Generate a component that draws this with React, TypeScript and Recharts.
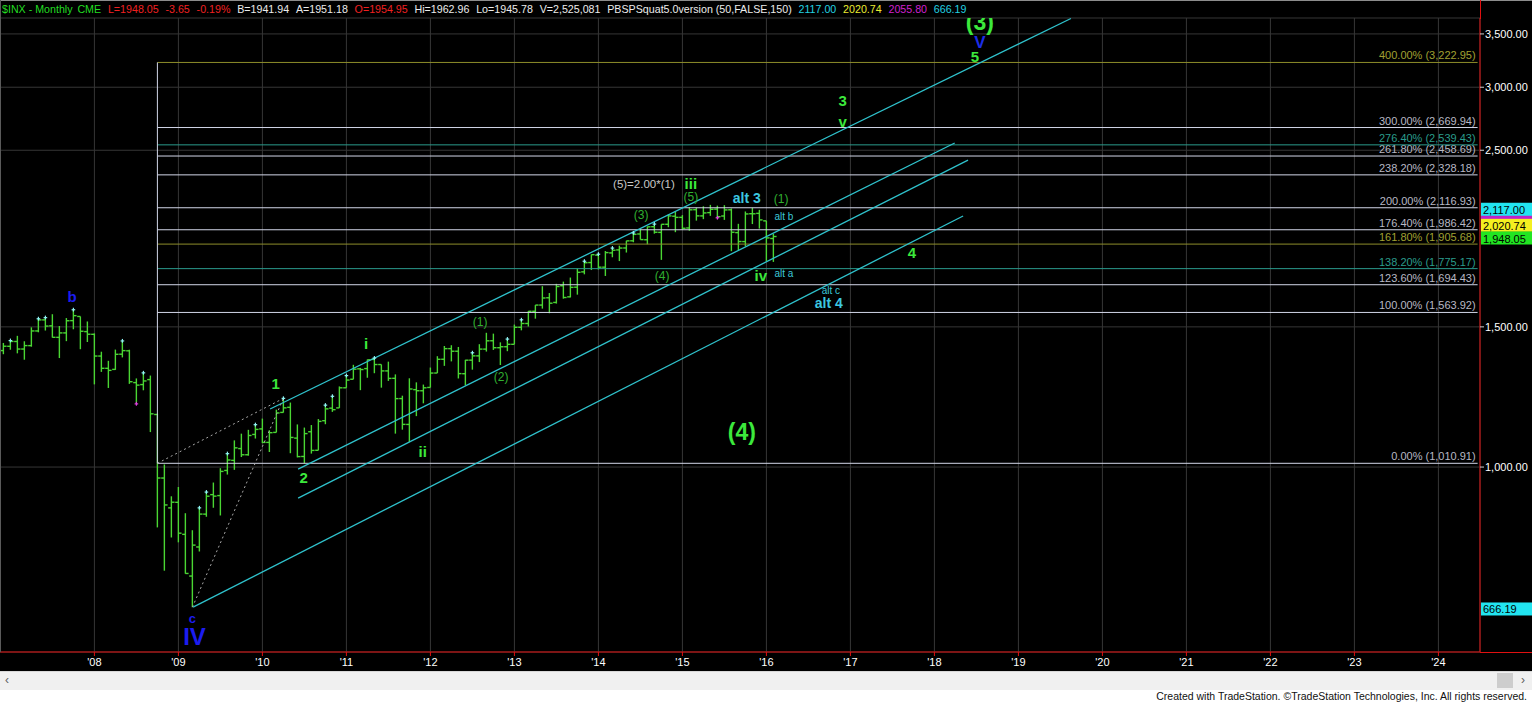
import React from "react";
import { ComposedChart, Bar, Scatter, XAxis, YAxis, CartesianGrid, ReferenceLine } from "recharts";

// monthly bars, first one is Dec 2006; month index m: Jan 2008 = 0
const FIRST_M = -13;

const opens = [
  1400.6,
  1418.0, 1437.9, 1406.8, 1420.8, 1482.4, 1530.6, 1504.4, 1455.2, 1474.0, 1527.3, 1545.8, 1479.6,
  1468.0, 1378.6, 1330.5, 1326.4, 1386.0, 1399.6, 1276.7, 1269.4, 1287.8, 1164.2, 968.7, 888.6,
  903.0, 823.1, 729.6, 793.6, 872.7, 923.3, 920.8, 990.2, 1019.5, 1054.9, 1036.2, 1098.9,
  1116.6, 1073.9, 1105.4, 1171.2, 1188.6, 1087.3, 1031.1, 1107.5, 1049.7, 1143.5, 1185.7, 1186.6,
  1257.6, 1289.1, 1328.6, 1329.5, 1365.2, 1345.2, 1320.6, 1292.6, 1219.1, 1131.2, 1251.0, 1246.9,
  1258.9, 1312.5, 1365.9, 1408.5, 1397.9, 1309.9, 1362.3, 1379.3, 1406.5, 1440.9, 1412.2, 1416.2,
  1426.2, 1498.1, 1514.7, 1569.2, 1597.6, 1631.7, 1609.8, 1689.4, 1636.0, 1682.4, 1758.7, 1806.6,
  1845.9, 1782.7, 1857.7, 1874.0, 1884.4, 1923.9, 1962.3, 1929.8, 2004.1, 1971.4, 2018.2, 2065.8,
  2058.9, 1996.7, 2105.2, 2067.6, 2087.4, 2108.6, 2067.0, 2104.5, 1970.1, 1919.7, 2080.8, 2082.9,
  2038.2, 1936.9,
];
const highs = [
  1431.8,
  1441.6, 1461.6, 1438.9, 1498.0, 1535.6, 1540.6, 1555.9, 1503.9, 1538.7, 1576.1, 1545.8, 1523.6,
  1471.8, 1396.0, 1359.7, 1404.6, 1440.2, 1404.1, 1292.2, 1313.2, 1303.0, 1167.0, 1007.5, 918.9,
  943.9, 875.0, 833.0, 888.7, 930.2, 956.2, 996.7, 1039.5, 1080.2, 1101.4, 1113.7, 1130.4,
  1150.5, 1112.4, 1180.7, 1219.8, 1205.1, 1131.2, 1121.0, 1129.2, 1148.9, 1196.1, 1227.1, 1262.6,
  1302.7, 1344.1, 1332.3, 1364.6, 1370.6, 1345.2, 1356.5, 1307.4, 1229.3, 1292.7, 1277.6, 1269.4,
  1333.5, 1378.0, 1419.2, 1422.4, 1415.3, 1363.5, 1391.7, 1426.7, 1474.5, 1471.0, 1434.3, 1448.0,
  1509.9, 1530.9, 1570.3, 1597.6, 1687.2, 1654.2, 1698.8, 1709.7, 1729.9, 1775.2, 1813.6, 1849.4,
  1850.8, 1867.9, 1884.0, 1897.3, 1924.0, 1968.2, 1991.4, 2005.0, 2019.3, 2018.2, 2075.8, 2093.6,
  2072.4, 2119.6, 2117.5, 2125.9, 2134.7, 2129.9, 2132.8, 2112.7, 2020.9, 2094.3, 2116.5, 2104.3,
  2038.2, 1963.0,
];
const lows = [
  1385.9,
  1404.0, 1389.4, 1364.0, 1416.4, 1476.7, 1484.2, 1454.3, 1370.6, 1439.3, 1489.6, 1406.1, 1435.7,
  1270.1, 1316.8, 1257.0, 1324.4, 1373.1, 1272.0, 1200.4, 1248.6, 1106.4, 839.8, 741.0, 815.7,
  804.3, 734.5, 666.8, 783.3, 866.1, 888.9, 869.3, 978.5, 992.0, 1029.4, 1033.4, 1085.9,
  1071.6, 1044.5, 1105.4, 1170.7, 1040.8, 1028.3, 1010.9, 1039.7, 1049.7, 1131.9, 1173.0, 1186.6,
  1257.6, 1289.1, 1249.1, 1294.7, 1311.8, 1258.1, 1282.9, 1101.5, 1114.2, 1074.8, 1158.7, 1202.4,
  1258.9, 1312.5, 1340.0, 1357.4, 1292.0, 1266.7, 1325.4, 1354.7, 1396.6, 1403.3, 1343.4, 1398.1,
  1426.2, 1485.0, 1501.5, 1536.0, 1581.3, 1560.3, 1604.6, 1627.5, 1633.4, 1646.5, 1746.2, 1768.0,
  1770.5, 1737.9, 1834.4, 1814.4, 1859.8, 1916.0, 1930.7, 1904.8, 1964.0, 1820.7, 2001.0, 1972.6,
  1988.1, 1980.9, 2039.7, 2048.4, 2067.9, 2056.3, 2044.0, 1867.0, 1871.9, 1893.7, 2019.4, 1993.3,
  1812.3, 1810.1,
];
const closes = [
  1418.3,
  1438.2, 1406.8, 1420.9, 1482.4, 1530.6, 1503.4, 1455.3, 1474.0, 1526.8, 1549.4, 1481.1, 1468.4,
  1378.6, 1330.6, 1322.7, 1385.6, 1400.4, 1280.0, 1267.4, 1282.8, 1166.4, 968.8, 896.2, 903.3,
  825.9, 735.1, 797.9, 872.8, 919.1, 919.3, 987.5, 1020.6, 1057.1, 1036.2, 1095.6, 1115.1,
  1073.9, 1104.5, 1169.4, 1186.7, 1089.4, 1030.7, 1101.6, 1049.3, 1141.2, 1183.3, 1180.6, 1257.6,
  1286.1, 1327.2, 1325.8, 1363.6, 1345.2, 1320.6, 1292.3, 1218.9, 1131.4, 1253.3, 1247.0, 1257.6,
  1312.4, 1365.7, 1408.5, 1397.9, 1310.3, 1362.2, 1379.3, 1406.6, 1440.7, 1412.2, 1416.2, 1426.2,
  1498.1, 1514.7, 1569.2, 1597.6, 1630.7, 1606.3, 1685.7, 1633.0, 1681.6, 1756.5, 1805.8, 1848.4,
  1782.6, 1859.5, 1872.3, 1884.0, 1923.6, 1960.2, 1930.7, 2003.4, 1972.3, 2018.1, 2067.6, 2058.9,
  1995.0, 2104.5, 2067.9, 2085.5, 2107.4, 2063.1, 2103.8, 1972.2, 1920.0, 2079.4, 2080.4, 2043.9,
  1940.2, 1948.05,
];

// pivot markers (month index)
const cyanMarks = [-12, -8, -7, -3, 4, 7, 15, 16, 19, 23, 27, 33, 34, 36, 40, 54, 59, 61, 70, 72, 74, 77, 80];
const magentaMarks = [6, 89];

const yearTicks = [0, 12, 24, 36, 48, 60, 72, 84, 96, 108, 120, 132, 144, 156, 168, 180, 192];
const priceTicks = [1000, 1500, 2500, 3000, 3500];

// fibonacci extension levels
const fibPcts = ["0.00%", "100.00%", "123.60%", "138.20%", "161.80%", "176.40%", "200.00%", "238.20%", "261.80%", "276.40%", "300.00%", "400.00%"];
const fibValues = [1010.91, 1563.92, 1694.43, 1775.17, 1905.68, 1986.42, 2116.93, 2328.18, 2458.69, 2539.43, 2669.94, 3222.95];
const fibKinds = ["w", "w", "w", "t", "o", "w", "w", "w", "w", "t", "w", "o"];
const FIB_FROM = 9;
const FIB_TO = 197.6;

// trend channel lines [month, price]
const channelFrom = [[25.1, 1182.7], [29.1, 994.2], [29.1, 914.2], [14.1, 666.9]];
const channelTo = [[139.5, 3660], [122.9, 2553], [124.8, 2430], [124.1, 2067]];
const dottedFrom = [[9, 1010.91], [14, 666.8]];
const dottedTo = [[27, 1219.8], [27, 1219.8]];

// wave count labels
const waveTexts = ["b", "c", "IV", "1", "2", "i", "ii", "(1)", "(2)", "(3)", "(4)", "(5)", "(5)=2.00*(1)", "iii", "alt 3", "(1)", "alt b", "iv", "alt a", "alt c", "alt 4", "4", "3", "v", "(3)", "V", "5", "(4)"];
const waveMonths = [-3.2, 14.0, 14.3, 25.9, 29.9, 38.8, 46.9, 55.1, 58.1, 78.1, 81.1, 85.2, 78.5, 85.2, 93.2, 98.1, 98.5, 95.2, 98.5, 105.2, 104.9, 116.8, 106.9, 106.9, 126.5, 126.5, 125.8, 92.5];
const wavePrices = [1636, 646, 613, 1272, 969, 1431, 1047, 1521, 1298, 2073, 1738, 2184, 2268, 2268, 2177, 2171, 2067, 1738, 1748, 1664, 1607, 1862, 2883, 2720, 3623, 3410, 3280, 1107];
const waveKinds = ["blue", "blueS", "blueB", "green", "green", "green", "green", "paren", "paren", "paren", "paren", "paren", "note", "green", "cyan", "paren", "cyanS", "green", "cyanS", "cyanS", "cyan", "green", "green", "green", "greenB", "blueV", "green", "greenB"];

// last values shown on the price scale (the magenta one sits under its neighbours)
const boxValues = [2055.8, 2117.0, 2020.74, 1948.05, 666.19];
const boxKinds = ["m", "c", "y", "g", "c"];

const FONT = '"Liberation Sans", Arial, Helvetica, sans-serif';
const RED = "#e01010";
const BAR_GREEN = "#4ad633";
const CHANNEL = "#2fc2cc";

const fibLine: Record<string, string> = { w: "#d2d6e8", t: "#2a9a8c", o: "#8e8e2a" };
const fibText: Record<string, string> = { w: "#b8b8c4", t: "#2a9c8c", o: "#a0a032" };
const boxFill: Record<string, string> = { m: "#c020c8", c: "#22e4f0", y: "#f4f020", g: "#22e622" };

const labelStyles: Record<string, { fill: string; size: number; weight: number }> = {
  blue: { fill: "#1c1cf0", size: 15, weight: 700 },
  blueS: { fill: "#1c1cf0", size: 13, weight: 700 },
  blueB: { fill: "#1c1cf0", size: 24, weight: 700 },
  blueV: { fill: "#1c2ee8", size: 17, weight: 700 },
  green: { fill: "#3ce83c", size: 15, weight: 700 },
  greenB: { fill: "#3ce83c", size: 23, weight: 700 },
  paren: { fill: "#30b030", size: 12, weight: 400 },
  note: { fill: "#c8c8c8", size: 11.5, weight: 400 },
  cyan: { fill: "#3cc8e0", size: 14, weight: 700 },
  cyanS: { fill: "#3cc8d8", size: 10, weight: 400 },
};

const bars = opens.map((o, i) => ({
  m: FIRST_M + i,
  range: [lows[i], highs[i]],
  open: o,
  high: highs[i],
  low: lows[i],
  close: closes[i],
}));
const cyanData = cyanMarks.map((m) => ({ m, v: highs[m - FIRST_M] }));
const magentaData = magentaMarks.map((m) => ({ m, v: lows[m - FIRST_M] }));
const waveData = waveTexts.map((t, i) => ({ m: waveMonths[i], v: wavePrices[i], t, k: waveKinds[i] }));

const fmtPrice = (v: number) =>
  v.toLocaleString("en-US", { minimumFractionDigits: 2, maximumFractionDigits: 2 });

function OhlcBar(props: any) {
  const { x, y, width, height, payload } = props;
  if (x == null || y == null) return null;
  const cx = x + width / 2;
  const top = Math.min(y, y + height);
  const bot = Math.max(y, y + height);
  const lh = Math.log(payload.high);
  const ll = Math.log(payload.low);
  const at = (v: number) => top + ((bot - top) * (lh - Math.log(v))) / (lh - ll || 1);
  const yo = at(payload.open);
  const yc = at(payload.close);
  return (
    <g stroke={BAR_GREEN} strokeWidth={1.4}>
      <line x1={cx} x2={cx} y1={top} y2={bot} />
      <line x1={cx - 3.2} x2={cx} y1={yo} y2={yo} />
      <line x1={cx} x2={cx + 3.2} y1={yc} y2={yc} />
    </g>
  );
}

const plusMark = (color: string) => (p: any) => (
  <g stroke={color} strokeWidth={1.2}>
    <line x1={p.cx - 1.8} x2={p.cx + 1.8} y1={p.cy} y2={p.cy} />
    <line x1={p.cx} x2={p.cx} y1={p.cy - 2} y2={p.cy + 1.8} />
  </g>
);

function WaveText(p: any) {
  const s = labelStyles[p.payload.k];
  return (
    <text x={p.cx} y={p.cy} textAnchor="middle" dominantBaseline="central" fill={s.fill}
      fontSize={s.size} fontWeight={s.weight} fontFamily={FONT}>
      {p.payload.t}
    </text>
  );
}

const fibLabel = (text: string, color: string) => (props: any) => {
  const vb = props.viewBox;
  return (
    <text x={vb.x + vb.width - 2} y={vb.y - 3} textAnchor="end" fill={color} fontSize={11} fontFamily={FONT}>
      {text}
    </text>
  );
};

const boxLabel = (value: number, color: string, withText: boolean) => (props: any) => {
  const vb = props.viewBox;
  const cy = vb.y + 1.5;
  return (
    <g>
      <rect x={vb.x + vb.width + 1} y={cy - 6.5} width={52} height={13} fill={color} />
      {withText && (
        <text x={vb.x + vb.width + 3} y={cy + 0.5} dominantBaseline="central" fill="#000" fontSize={11} fontFamily={FONT}>
          {fmtPrice(value)}
        </text>
      )}
    </g>
  );
};

const titleParts: [string, string][] = [
  ["$INX - Monthly", "#22dd22"],
  ["CME", "#22dd22"],
  ["L=1948.05", "#f02020"],
  ["-3.65", "#f02020"],
  ["-0.19%", "#f02020"],
  ["B=1941.94", "#ececec"],
  ["A=1951.18", "#ececec"],
  ["O=1954.95", "#f02020"],
  ["Hi=1962.96", "#ececec"],
  ["Lo=1945.78", "#ececec"],
  ["V=2,525,081", "#ececec"],
  ["PBSPSquat5.0version (50,FALSE,150)", "#ececec"],
  ["2117.00", "#22d2e2"],
  ["2020.74", "#ecec30"],
  ["2055.80", "#d020d0"],
  ["666.19", "#22d2e2"],
];

export default function App() {
  return (
    <div style={{ position: "relative", width: 1532, height: 703, background: "#000", overflow: "hidden", fontFamily: FONT }}>
      <style>{"body{margin:0;background:#fff}"}</style>
      <div style={{ position: "absolute", left: 0, top: 0 }}>
        <ComposedChart width={1532} height={671} data={bars} margin={{ top: 18, right: 0, bottom: 0, left: 0 }}>
          <CartesianGrid stroke="#363636" strokeWidth={1} />
          <XAxis
            dataKey="m"
            type="number"
            domain={[-13.486, 197.94]}
            allowDataOverflow
            ticks={yearTicks}
            interval={0}
            height={19}
            tickFormatter={(m: number) => "'" + String(8 + m / 12).padStart(2, "0")}
            axisLine={{ stroke: RED }}
            tickLine={{ stroke: RED }}
            tickSize={4}
            tickMargin={2}
            tick={{ fill: "#ffffff", fontSize: 11, fontFamily: FONT }}
          />
          <YAxis
            orientation="right"
            type="number"
            scale="log"
            domain={[585.7, 3665]}
            allowDataOverflow
            ticks={priceTicks}
            interval={0}
            width={52}
            tickFormatter={fmtPrice}
            axisLine={{ stroke: RED }}
            tickLine={{ stroke: "#d0d0d0" }}
            tickSize={4}
            tickMargin={1}
            tick={{ fill: "#ffffff", fontSize: 11, fontFamily: FONT }}
          />
          {fibValues.map((v, i) => (
            <ReferenceLine
              key={"fib" + i}
              segment={[{ x: FIB_FROM, y: v }, { x: FIB_TO, y: v }]}
              stroke={fibLine[fibKinds[i]]}
              strokeWidth={1}
              label={fibLabel(`${fibPcts[i]} (${fmtPrice(v)})`, fibText[fibKinds[i]])}
            />
          ))}
          <ReferenceLine
            segment={[{ x: FIB_FROM, y: fibValues[0] }, { x: FIB_FROM, y: fibValues[fibValues.length - 1] }]}
            stroke="#d2d6e8"
          />
          {channelFrom.map((a, i) => (
            <ReferenceLine
              key={"ch" + i}
              segment={[{ x: a[0], y: a[1] }, { x: channelTo[i][0], y: channelTo[i][1] }]}
              stroke={CHANNEL}
              strokeWidth={1.3}
            />
          ))}
          {dottedFrom.map((a, i) => (
            <ReferenceLine
              key={"dt" + i}
              segment={[{ x: a[0], y: a[1] }, { x: dottedTo[i][0], y: dottedTo[i][1] }]}
              stroke="#a8a8a8"
              strokeDasharray="2 3"
            />
          ))}
          <Bar dataKey="range" barSize={7} shape={OhlcBar} isAnimationActive={false} />
          <Scatter data={cyanData} dataKey="v" shape={plusMark("#8ff4f4")} isAnimationActive={false} />
          <Scatter data={magentaData} dataKey="v" shape={plusMark("#e040e0")} isAnimationActive={false} />
          <Scatter data={waveData} dataKey="v" shape={WaveText} isAnimationActive={false} />
          {boxValues.map((v, i) => (
            <ReferenceLine
              key={"box" + i}
              y={v}
              stroke="none"
              label={boxLabel(v, boxFill[boxKinds[i]], boxKinds[i] !== "m")}
            />
          ))}
        </ComposedChart>
      </div>

      {/* frame pieces */}
      <div style={{ position: "absolute", left: 0, top: 0, width: 1532, height: 1, background: "#8c8c8c" }} />
      <div style={{ position: "absolute", left: 0, top: 0, width: 1, height: 652, background: "#5a5a5a" }} />
      <div style={{ position: "absolute", left: 1480, top: 0, width: 1, height: 19, background: RED }} />
      <div style={{ position: "absolute", left: 1480, top: 652, width: 52, height: 1, background: RED }} />

      {/* title */}
      <div
        style={{
          position: "absolute", left: 2, top: 3, fontSize: 11, lineHeight: "12px", whiteSpace: "pre",
          transform: "scaleX(0.97)", transformOrigin: "left top",
        }}
      >
        {titleParts.map(([t, c], i) => (
          <span key={i} style={{ color: c, marginRight: i === 0 ? 5 : 7 }}>{t}</span>
        ))}
      </div>

      {/* scroll bar strip and footer */}
      <div style={{ position: "absolute", left: 0, top: 671, width: 1532, height: 18, background: "#f0f0f0", borderTop: "1px solid #d8d8d8" }}>
        <span style={{ position: "absolute", left: 5, top: 1, fontSize: 12, color: "#606060" }}>&lsaquo;</span>
        <div style={{ position: "absolute", left: 1497, top: 1, width: 16, height: 15, background: "#cdcdcd" }} />
        <span style={{ position: "absolute", left: 1521, top: 1, fontSize: 12, color: "#606060" }}>&rsaquo;</span>
      </div>
      <div style={{ position: "absolute", left: 0, top: 690, width: 1532, height: 13, background: "#fff" }} />
      <div
        style={{
          position: "absolute", right: 5, top: 690, height: 13, lineHeight: "13px", fontSize: 10.5,
          color: "#111", whiteSpace: "nowrap",
        }}
      >
        Created with TradeStation. ©TradeStation Technologies, Inc. All rights reserved.
      </div>
    </div>
  );
}
